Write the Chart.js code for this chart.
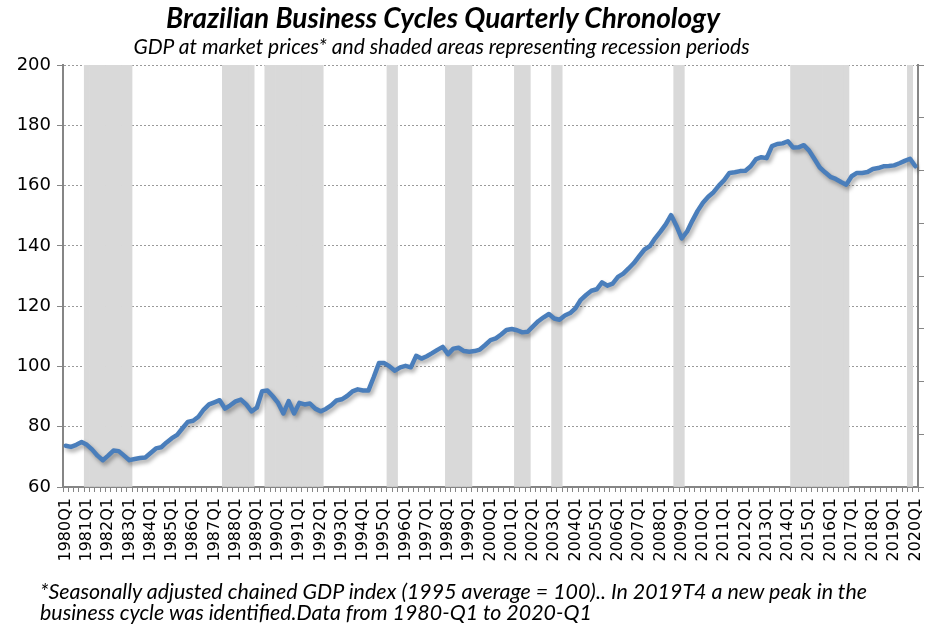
<!DOCTYPE html>
<html>
<head>
<meta charset="utf-8">
<script src="https://cdn.jsdelivr.net/npm/chart.js@4"></script>
<style>
    html, body { margin: 0; padding: 0; background: #fff; }
    #wrap { position: relative; width: 926px; height: 625px; }
    #chart { position: absolute; left: 0; top: 0; }
    .txt { position: absolute; font-family: Lato, "Open Sans", sans-serif; font-style: italic; color: #000; white-space: nowrap; line-height: 1.2; }
    #title { left: 0; width: 886px; top: 1px; text-align: center; font-weight: bold; font-size: 28px; }
    #subtitle { left: 0; width: 883px; top: 33px; text-align: center; font-size: 21px; }
    #note { left: 40px; top: 581px; font-size: 21.4px; line-height: 21px; }
</style>
</head>
<body>
<div id="wrap">
    <canvas id="chart" width="926" height="625"></canvas>
    <div class="txt" id="title">Brazilian Business Cycles Quarterly Chronology</div>
    <div class="txt" id="subtitle">GDP at market prices* and shaded areas representing recession periods</div>
    <div class="txt" id="note">*Seasonally adjusted chained GDP index (1995 average = 100).. In 2019T4 a new peak in the<br>business cycle was identified.Data from 1980-Q1 to 2020-Q1</div>
</div>
<script>
    const FIRST_YEAR = 1980;
    const LAST_YEAR = 2020;

    // quarter labels 1980Q1 .. 2020Q1
    const quarters = [];
    for (let y = FIRST_YEAR; y <= LAST_YEAR; y++) {
        for (let q = 1; q <= 4; q++) {
            if (y === LAST_YEAR && q > 1) break;
            quarters.push(y + "Q" + q);
        }
    }

    // GDP index, 1995 = 100
    const gdpIndex = [
        73.7, 73.3, 74.0, 74.9, 74.0, 72.4, 70.4, 68.9, 70.4, 72.1,
        71.9, 70.4, 68.9, 69.3, 69.6, 69.8, 71.3, 72.8, 73.2, 74.8,
        76.2, 77.3, 79.5, 81.6, 82.0, 83.3, 85.7, 87.4, 88.1, 88.8,
        86.0, 87.1, 88.4, 89.0, 87.4, 85.1, 86.3, 91.8, 92.0, 90.1,
        87.9, 84.4, 88.5, 84.4, 87.9, 87.4, 87.7, 86.0, 85.1, 85.9,
        87.1, 88.7, 89.1, 90.2, 91.7, 92.4, 92.0, 92.0, 96.4, 101.1,
        101.1, 100.0, 98.6, 99.7, 100.2, 99.7, 103.5, 102.6, 103.4, 104.4,
        105.5, 106.5, 104.1, 105.9, 106.2, 105.1, 104.9, 105.1, 105.6, 107.1,
        108.7, 109.3, 110.6, 112.1, 112.4, 112.0, 111.3, 111.5, 113.3, 115.0,
        116.3, 117.4, 115.9, 115.5, 116.9, 117.7, 119.3, 122.1, 123.7, 125.1,
        125.6, 127.9, 126.8, 127.5, 129.7, 130.8, 132.5, 134.3, 136.6, 138.8,
        139.9, 142.5, 144.7, 147.1, 150.2, 146.7, 142.5, 144.7, 148.3, 151.6,
        154.3, 156.3, 157.8, 160.0, 161.8, 164.2, 164.4, 164.8, 164.9, 166.4,
        168.8, 169.4, 169.1, 173.1, 173.8, 174.0, 174.7, 172.6, 172.7, 173.4,
        171.6, 168.8, 166.0, 164.4, 162.9, 162.2, 161.2, 160.3, 163.1, 164.2,
        164.2, 164.5, 165.5, 165.8, 166.4, 166.5, 166.7, 167.4, 168.2, 168.9,
        166.4
    ];

    // recession periods (peak quarter .. trough quarter)
    const recessionStarts = ["1981Q1", "1987Q3", "1989Q3", "1995Q2", "1998Q1", "2001Q2", "2003Q1", "2008Q4", "2014Q2", "2019Q4"];
    const recessionEnds   = ["1983Q1", "1988Q4", "1992Q1", "1995Q3", "1999Q1", "2001Q4", "2003Q2", "2009Q1", "2016Q4", "2019Q4"];

    const yTicks = [60, 80, 100, 120, 140, 160, 180, 200];
    const SHADE_TOP = 8; // secondary axis max

    const recessionBars = quarters.map(() => null);
    recessionStarts.forEach((start, k) => {
        const a = quarters.indexOf(start);
        const b = quarters.indexOf(recessionEnds[k]);
        for (let i = a; i <= b; i++) recessionBars[i] = SHADE_TOP;
    });

    const AXIS_GREY = "#868686";

    const lineShadow = {
        id: "lineShadow",
        beforeDatasetDraw(chart, args) {
            if (args.meta.type !== "line") return;
            const ctx = chart.ctx;
            ctx.save();
            ctx.shadowColor = "rgba(0,0,0,0.35)";
            ctx.shadowBlur = 4;
            ctx.shadowOffsetX = 2;
            ctx.shadowOffsetY = 3;
        },
        afterDatasetDraw(chart, args) {
            if (args.meta.type !== "line") return;
            chart.ctx.restore();
        }
    };

    new Chart(document.getElementById("chart").getContext("2d"), {
        data: {
            labels: quarters,
            datasets: [
                {
                    type: "line",
                    label: "GDP",
                    data: gdpIndex,
                    yAxisID: "y",
                    borderColor: "#4a7ebb",
                    borderWidth: 4.5,
                    pointRadius: 0,
                    tension: 0,
                    borderJoinStyle: "round",
                    borderCapStyle: "round",
                    order: 0
                },
                {
                    type: "bar",
                    label: "Recession",
                    data: recessionBars,
                    yAxisID: "y2",
                    backgroundColor: "#d9d9d9",
                    barPercentage: 1,
                    categoryPercentage: 1,
                    order: 1
                }
            ]
        },
        options: {
            responsive: false,
            animation: false,
            layout: { padding: { top: 65, left: 0, right: 0, bottom: 0 } },
            plugins: {
                legend: { display: false },
                title: { display: false },
                tooltip: { enabled: false }
            },
            scales: {
                x: {
                    offset: true,
                    grid: { display: true, drawOnChartArea: false, drawTicks: true, tickLength: 5, color: AXIS_GREY, offset: true },
                    border: { display: true, color: AXIS_GREY, width: 2 },
                    ticks: {
                        autoSkip: false,
                        maxRotation: 90,
                        minRotation: 90,
                        padding: 6,
                        color: "#000",
                        font: { family: "DejaVu Sans", size: 16 },
                        callback: function (value, index) {
                            return index % 4 === 0 ? quarters[index] : "";
                        }
                    },
                    afterFit: scale => {
                        scale.height = 138;
                        scale.paddingLeft = 0;
                        scale.paddingRight = 0;
                    }
                },
                y: {
                    position: "left",
                    min: 60,
                    max: 200,
                    afterBuildTicks: scale => { scale.ticks = yTicks.map(v => ({ value: v })); },
                    grid: { color: "#9a9a9a", lineWidth: 1, tickColor: AXIS_GREY, tickLength: 6, drawTicks: true },
                    border: { display: true, color: AXIS_GREY, width: 2, dash: [2, 2] },
                    ticks: {
                        padding: 6,
                        color: "#000",
                        font: { family: "DejaVu Sans", size: 18 }
                    },
                    afterFit: scale => { scale.width = 63; }
                },
                y2: {
                    position: "right",
                    min: 0,
                    max: SHADE_TOP,
                    ticks: { display: false, stepSize: 1 },
                    grid: { drawOnChartArea: false, drawTicks: true, tickLength: 6, color: AXIS_GREY },
                    border: { display: true, color: AXIS_GREY, width: 2 },
                    afterFit: scale => { scale.width = 8; }
                }
            }
        },
        plugins: [lineShadow]
    });
</script>
</body>
</html>
